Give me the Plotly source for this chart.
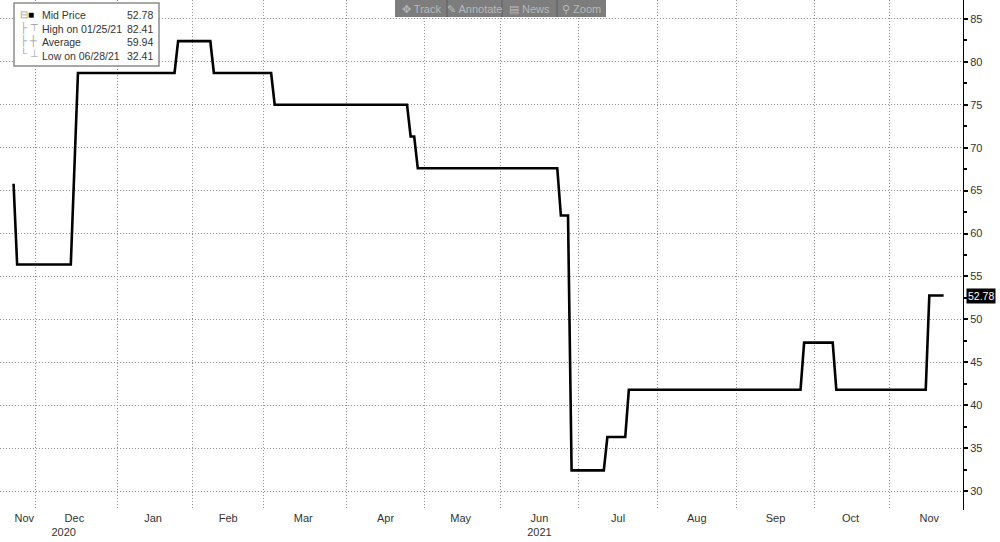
import plotly.graph_objects as go

# ---- data ----
dates = ["2020-11-23", "2020-11-24", "2020-12-15", "2020-12-17", "2021-01-25",
         "2021-01-26", "2021-02-08", "2021-02-09", "2021-03-03", "2021-03-04",
         "2021-04-26", "2021-04-27", "2021-04-28", "2021-04-29", "2021-06-23",
         "2021-06-24", "2021-06-28", "2021-06-29", "2021-07-12", "2021-07-13",
         "2021-07-20", "2021-07-21", "2021-09-27", "2021-09-28", "2021-10-08",
         "2021-10-11", "2021-11-15", "2021-11-16", "2021-11-22"]
prices = [65.8, 56.4, 56.4, 78.7, 78.7,
          82.41, 82.41, 78.7, 78.7, 75.0,
          75.0, 71.3, 71.3, 67.6, 67.6,
          62.1, 62.1, 32.41, 32.41, 36.3,
          36.3, 41.8, 41.8, 47.3, 47.3,
          41.8, 41.8, 52.78, 52.78]

month_starts = ["2020-12-01", "2021-01-01", "2021-02-01", "2021-03-01", "2021-04-01",
                "2021-05-03", "2021-06-01", "2021-07-01", "2021-08-02", "2021-09-01",
                "2021-10-01", "2021-11-01"]
month_label_dates = ["2020-11-26", "2020-12-16", "2021-01-15", "2021-02-15", "2021-03-16",
                     "2021-04-16", "2021-05-17", "2021-06-16", "2021-07-16", "2021-08-17",
                     "2021-09-16", "2021-10-15", "2021-11-16"]
month_labels = ["Nov", "Dec", "Jan", "Feb", "Mar", "Apr", "May", "Jun", "Jul", "Aug",
                "Sep", "Oct", "Nov"]
year_label_dates = ["2020-12-11", "2021-06-16"]
year_labels = ["2020", "2021"]

y_ticks = [30, 35, 40, 45, 50, 55, 60, 65, 70, 75, 80, 85]

last_price = 52.78
legend_names = ["Mid Price", "High on 01/25/21", "Average", "Low on 06/28/21"]
legend_values = ["52.78", "82.41", "59.94", "32.41"]
toolbar_items = ["✥ Track", "✎ Annotate", "▤ News", "⚲ Zoom"]

# ---- figure ----
X_RANGE = ["2020-11-17 05:00", "2021-11-29 10:00"]
BREAKS = [dict(bounds=["sat", "mon"])]
FONT = "Liberation Sans, Arial, sans-serif"
TXT = "#333333"
GRID = "#8e8e8e"
GRID_DASH = "1px,2px"

fig = go.Figure()
fig.add_trace(go.Scatter(x=dates, y=prices, mode="lines",
                         line=dict(color="#000000", width=2.6),
                         hoverinfo="skip", showlegend=False))
# helper traces so the label axes are drawn
fig.add_trace(go.Scatter(x=month_label_dates, y=[None] * len(month_label_dates),
                         xaxis="x2", mode="lines", showlegend=False, hoverinfo="skip"))
fig.add_trace(go.Scatter(x=year_label_dates, y=[None] * len(year_label_dates),
                         xaxis="x3", mode="lines", showlegend=False, hoverinfo="skip"))

W, H = 1000, 542
ML, MR, MT, MB = 0, 37, 0, 32
PW, PH = W - ML - MR, H - MT - MB

def px(x):
    return x / PW

def py(y):
    return 1 - y / PH

fig.update_layout(
    width=W, height=H,
    margin=dict(l=ML, r=MR, t=MT, b=MB, pad=0),
    paper_bgcolor="white", plot_bgcolor="white",
    font=dict(family=FONT, size=11, color=TXT),
    hovermode=False,
    xaxis=dict(type="date", range=X_RANGE, rangebreaks=BREAKS,
               tickmode="array", tickvals=month_starts, showticklabels=False,
               showgrid=True, gridcolor=GRID, griddash=GRID_DASH, gridwidth=1,
               zeroline=False, showline=False, ticks=""),
    xaxis2=dict(type="date", range=X_RANGE, rangebreaks=BREAKS, overlaying="x",
                anchor="y", side="bottom", tickmode="array",
                tickvals=month_label_dates, ticktext=month_labels,
                showgrid=False, zeroline=False, showline=False, ticks="",
                tickfont=dict(family=FONT, size=11, color=TXT)),
    xaxis3=dict(type="date", range=X_RANGE, rangebreaks=BREAKS, overlaying="x",
                anchor="y", side="bottom", tickmode="array",
                tickvals=year_label_dates, ticktext=["<br>" + t for t in year_labels],
                showgrid=False, zeroline=False, showline=False, ticks="",
                tickfont=dict(family=FONT, size=11, color=TXT)),
    yaxis=dict(side="right", range=[27.8, 87.2], tickmode="array", tickvals=y_ticks,
               showgrid=True, gridcolor=GRID, griddash=GRID_DASH, gridwidth=1,
               zeroline=False, showline=True, linecolor="#000000", linewidth=1,
               ticks="outside", ticklen=4, tickcolor="#000000", tickwidth=2,
               minor=dict(dtick=2.5, tick0=0, ticks="outside", ticklen=3,
                          tickcolor="#000000", showgrid=False),
               tickfont=dict(family=FONT, size=11, color=TXT)),
)

# last price tag on the right axis
fig.add_annotation(xref="paper", x=1, yref="y", y=last_price, text=f"{last_price:.2f}",
                   xanchor="left", yanchor="middle", xshift=3, showarrow=False,
                   bgcolor="#000000", font=dict(color="white", size=10.5, family=FONT),
                   borderpad=1)

# legend box (Bloomberg style)
fig.add_shape(type="rect", xref="paper", yref="paper",
              x0=px(14), x1=px(159), y0=py(66), y1=py(3),
              line=dict(color="#8c8c8c", width=1.5), fillcolor="white", layer="above")
g = '<span style="color:#9a9a9a">'
glyphs = [g + "⊟</span><span style=\"color:#000\">■</span>",
          g + "├ ⊤</span>", g + "├ ┼</span>", g + "└ ⊥</span>"]
fig.add_annotation(xref="paper", yref="paper", x=px(18), y=py(7.5),
                   xanchor="left", yanchor="top", align="left", showarrow=False,
                   text="<br>".join(glyphs),
                   font=dict(family=FONT, size=10, color=TXT))
fig.add_annotation(xref="paper", yref="paper", x=px(40), y=py(7),
                   xanchor="left", yanchor="top", align="left", showarrow=False,
                   text="<br>".join(legend_names),
                   font=dict(family=FONT, size=10.5, color=TXT))
fig.add_annotation(xref="paper", yref="paper", x=px(155), y=py(7),
                   xanchor="right", yanchor="top", align="right", showarrow=False,
                   text="<br>".join(legend_values),
                   font=dict(family=FONT, size=10.5, color=TXT))

# toolbar at the top
bar_edges = [395, 447, 502, 557, 606]
fig.add_shape(type="rect", xref="paper", yref="paper",
              x0=px(bar_edges[0]), x1=px(bar_edges[-1]), y0=py(17), y1=py(0),
              line=dict(width=0), fillcolor="#7d7d7d", layer="above")
for e in bar_edges[1:-1]:
    fig.add_shape(type="line", xref="paper", yref="paper",
                  x0=px(e), x1=px(e), y0=py(17), y1=py(0),
                  line=dict(color="#5e5e5e", width=1), layer="above")
for a, b, t in zip(bar_edges[:-1], bar_edges[1:], toolbar_items):
    fig.add_annotation(xref="paper", yref="paper", x=px((a + b) / 2), y=py(8.5),
                       xanchor="center", yanchor="middle", showarrow=False, text=t,
                       font=dict(family=FONT, size=11, color="#b8b8b8"))

fig.write_html("out.html", config={"displayModeBar": False},
               post_script="document.body.style.margin='0';document.body.style.overflow='hidden';")
